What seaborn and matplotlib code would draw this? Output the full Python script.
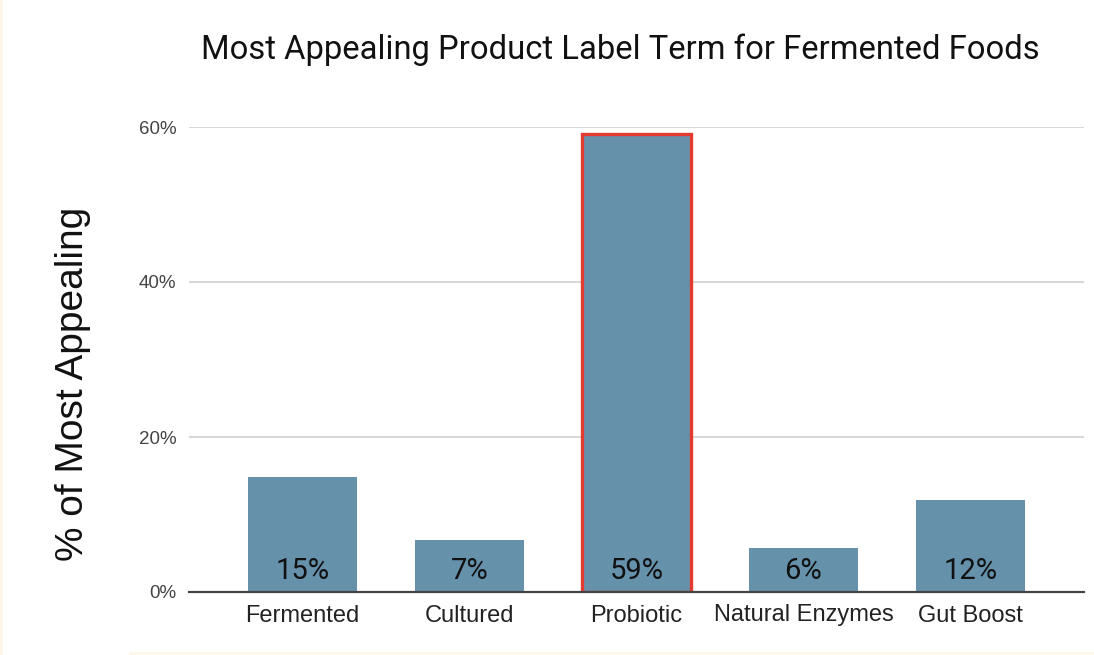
import matplotlib
matplotlib.use("Agg")
import matplotlib.pyplot as plt
import matplotlib.patches as mpatches
import seaborn as sns
import pandas as pd

# ---- data ----
categories = ["Fermented", "Cultured", "Probiotic", "Natural Enzymes", "Gut Boost"]
values = [14.8, 6.7, 59.1, 5.7, 11.9]
value_labels = ["15%", "7%", "59%", "6%", "12%"]
y_ticks = [0, 20, 40, 60]
y_tick_labels = ["0%", "20%", "40%", "60%"]
highlight = "Probiotic"

title = "Most Appealing Product Label Term for Fermented Foods"
y_label = "% of Most Appealing"

df = pd.DataFrame({"term": categories, "pct": values})

sns.set_theme(style="white")
plt.rcParams["font.family"] = ["Liberation Sans", "DejaVu Sans"]

W, H = 1094, 655
fig = plt.figure(figsize=(W / 100, H / 100), dpi=100)
fig.patch.set_facecolor("white")

# faint cream edges
fig.patches.append(mpatches.Rectangle((0, 0), 3 / W, 1, transform=fig.transFigure,
                                      facecolor="#FFF8EA", edgecolor="none", zorder=0))
fig.patches.append(mpatches.Rectangle((129 / W, 0), 1 - 129 / W, 3 / H, transform=fig.transFigure,
                                      facecolor="#FFF8EA", edgecolor="none", zorder=0))

left, right = 189 / W, 1084 / W
bottom, top = (H - 592) / H, (H - 127) / H
ax = fig.add_axes([left, bottom, right - left, top - bottom])

bar_color = "#6591AB"
sns.barplot(data=df, x="term", y="pct", order=categories, color=bar_color,
            width=0.65, saturation=1, ax=ax, zorder=3)

for patch, cat in zip(ax.patches, categories):
    patch.set_edgecolor("none")
    if cat == highlight:
        patch.set_edgecolor("#E53A2F")
        patch.set_linewidth(2.4)

ax.set_xlim(-0.68, len(categories) - 1 + 0.68)
ax.set_ylim(0, 60)
ax.set_yticks(y_ticks)
ax.set_yticklabels(y_tick_labels, fontsize=13.5, color="#444444")
ax.tick_params(axis="y", length=0, pad=9)
ax.tick_params(axis="x", length=0, pad=9, labelsize=17, labelcolor="#222222")
ax.set_xlabel("")
ax.set_ylabel("")

for s in ["top", "right", "left"]:
    ax.spines[s].set_visible(False)
ax.spines["bottom"].set_color("#444444")
ax.spines["bottom"].set_linewidth(1.6)
ax.spines["bottom"].set_zorder(4)

ax.yaxis.grid(True, color="#CCCCCC", linewidth=1.1, zorder=0)
ax.set_axisbelow(True)

for i, lab in enumerate(value_labels):
    ax.annotate(lab, xy=(i, 0), xytext=(0, 9.5), textcoords="offset points",
                ha="center", va="baseline", fontsize=21, color="#111111",
                family=["Roboto", "DejaVu Sans"], zorder=5)

fig.text(620 / W, 1 - 50 / H, title, ha="center", va="center", fontsize=23.6,
         color="#111111", family=["Roboto", "DejaVu Sans"])
fig.text(73 / W, 1 - 384 / H, y_label, ha="center", va="center", rotation=90,
         fontsize=28, color="#111111")

fig.savefig("out.png", dpi=100)
